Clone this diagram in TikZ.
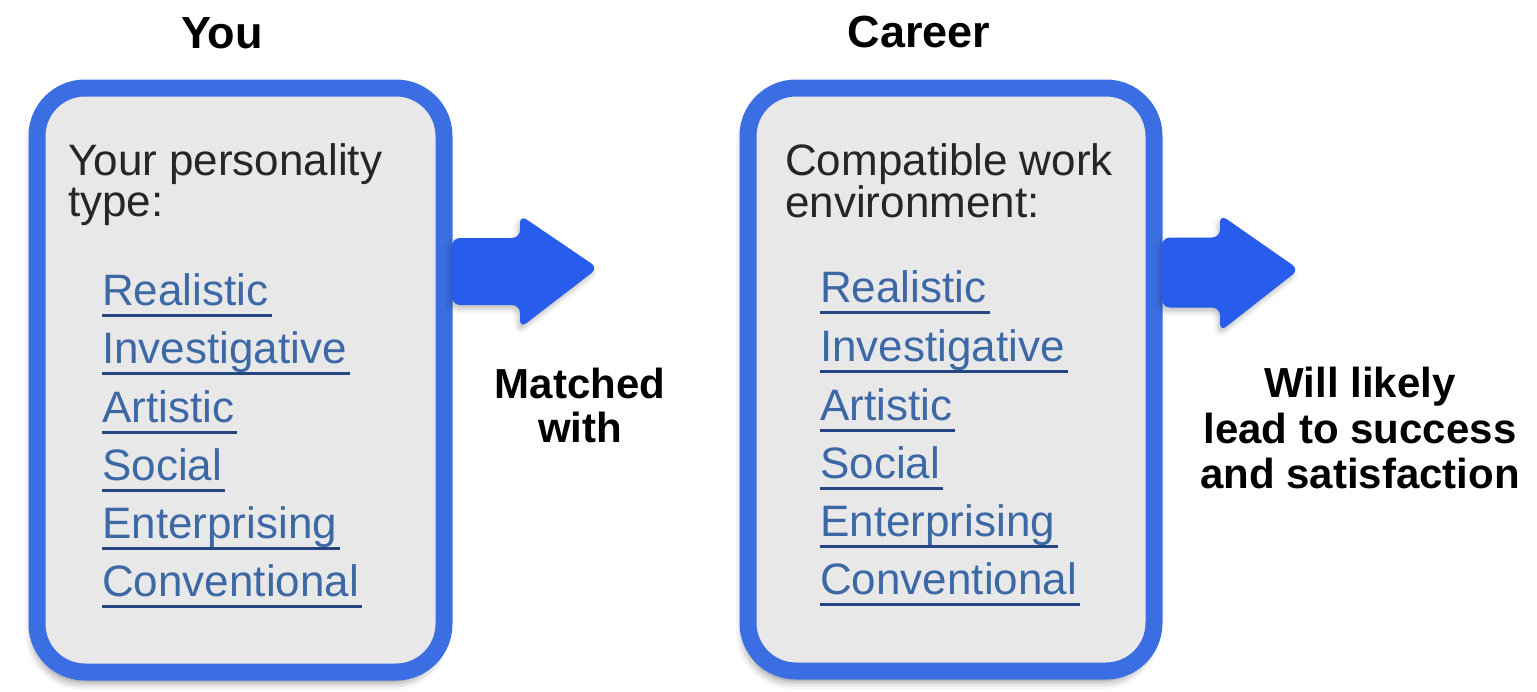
\documentclass[tikz,border=0pt]{standalone}
\usepackage{fontspec}
\setmainfont{Liberation Sans}
\usetikzlibrary{shadows.blur}
\definecolor{boxblue}{RGB}{58,110,226}
\definecolor{arrowblue}{RGB}{40,92,236}
\definecolor{boxfill}{RGB}{233,232,232}
\definecolor{linkblue}{RGB}{60,104,166}
\definecolor{linkline}{RGB}{38,70,130}
\begin{document}
\begin{tikzpicture}[x=1pt,y=-1pt,
  panel/.style={draw=boxblue, line width=17pt, fill=boxfill, rounded corners=48pt,
    inner sep=0pt, outer sep=0pt,
    blur shadow={shadow xshift=-3pt, shadow yshift=-9pt, shadow blur radius=9pt, shadow opacity=55}},
  flow/.style={fill=arrowblue, rounded corners=8pt,
    blur shadow={shadow xshift=-2pt, shadow yshift=-4pt, shadow blur radius=5pt, shadow opacity=25}},
  heading/.style={font=\fontsize{45}{45}\selectfont\bfseries, inner sep=0pt, anchor=base},
  lead/.style={font=\fontsize{44}{41}\selectfont, text=black!85, inner sep=0pt, anchor=base west},
  linkitem/.style={font=\fontsize{44}{41}\selectfont, text=linkblue, inner sep=0pt, anchor=base west},
  underl/.style={draw=linkline, line width=3pt},
  caption/.style={font=\fontsize{42}{44}\selectfont\bfseries, inner sep=0pt, anchor=base}
]
\useasboundingbox (0,0) rectangle (1537,691);

% panels
\node[panel, minimum width=407pt, minimum height=584pt] (you) at (240.5,380) {};
\node[panel, minimum width=406pt, minimum height=583pt] (career) at (951,379.5) {};

% arrows leaving the panels
\coordinate (a1) at ([xshift=8pt]you.east);
\coordinate (a2) at ([xshift=8pt]career.east);
\fill[flow] ([shift={(0,-142)}]a1) -- ([shift={(68,-142)}]a1) -- ([shift={(68,-165)}]a1)
  -- ([shift={(146,-112)}]a1) -- ([shift={(68,-52)}]a1) -- ([shift={(68,-75)}]a1)
  -- ([shift={(0,-75)}]a1) -- cycle;
\fill[flow] ([shift={(0,-142)}]a2) -- ([shift={(58,-142)}]a2) -- ([shift={(58,-165)}]a2)
  -- ([shift={(137,-110)}]a2) -- ([shift={(58,-48)}]a2) -- ([shift={(58,-72)}]a2)
  -- ([shift={(0,-72)}]a2) -- cycle;

% headings
\node[heading] (hyou) at (222,48) {You};
\node[heading] (hcareer) at (919,47) {Career};

% left panel text
\node[lead] (l1) at (68,175) {Your personality};
\node[lead] (l2) at (68,216) {type:};
\node[linkitem] (lr) at (102,305) {Realistic};
\node[linkitem] (li) at (102,363) {Investigative};
\node[linkitem] (la) at (102,422) {Artistic};
\node[linkitem] (ls) at (102,480) {Social};
\node[linkitem] (le) at (102,538) {Enterprising};
\node[linkitem] (lc) at (102,596) {Conventional};

% right panel text
\node[lead] (r1) at (785,175) {Compatible work};
\node[lead] (r2) at (785,217) {environment:};
\node[linkitem] (rr) at (820,302) {Realistic};
\node[linkitem] (ri) at (820,361) {Investigative};
\node[linkitem] (ra) at (820,420) {Artistic};
\node[linkitem] (rs) at (820,478) {Social};
\node[linkitem] (re) at (820,536) {Enterprising};
\node[linkitem] (rc) at (820,594) {Conventional};

% underlines of the links
\foreach \n in {lr,li,la,ls,le,lc,rr,ri,ra,rs,re,rc}
  \draw[underl] ([yshift=-10pt]\n.base west) -- ([yshift=-10pt,xshift=3pt]\n.base east);

% captions
\node[caption] (m1) at (580,398) {Matched};
\node[caption] (m2) at (580,442) {with};
\node[caption] (w1) at (1360,397) {Will likely};
\node[caption] (w2) at (1360,443) {lead to success};
\node[caption] (w3) at (1360,488) {and satisfaction};
\end{tikzpicture}
\end{document}
